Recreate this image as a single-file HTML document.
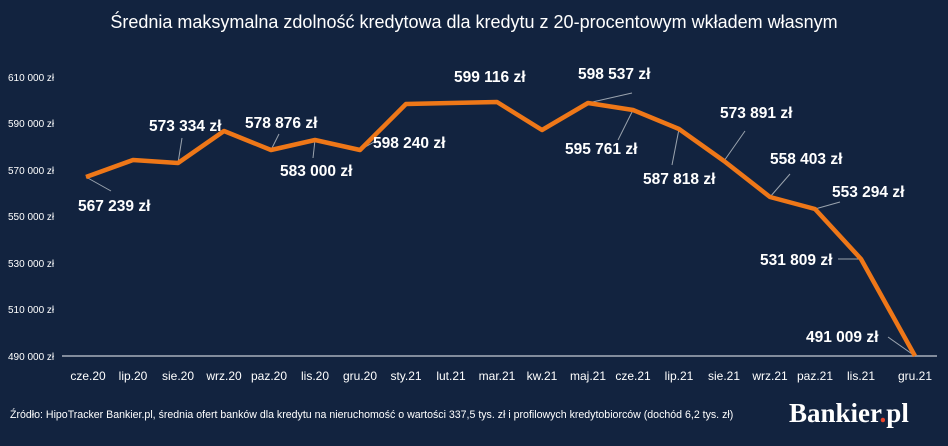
<!DOCTYPE html><html><head><meta charset="utf-8"><style>body{margin:0;background:#12233f}svg{display:block}text{font-family:"Liberation Sans",sans-serif;fill:#fff}</style></head><body>
<svg width="948" height="446" viewBox="0 0 948 446">
<rect width="948" height="446" fill="#12233f"/>
<text x="474" y="28" text-anchor="middle" font-size="18">Średnia maksymalna zdolność kredytowa dla kredytu z 20-procentowym wkładem własnym</text>
<g font-size="10" fill="#fff">
<text x="8" y="81">610 000 zł</text><text x="8" y="127">590 000 zł</text><text x="8" y="174">570 000 zł</text><text x="8" y="220">550 000 zł</text><text x="8" y="267">530 000 zł</text><text x="8" y="313">510 000 zł</text><text x="8" y="360">490 000 zł</text>
</g>
<line x1="62" y1="356" x2="937" y2="356" stroke="#a8b0bc" stroke-width="1.5"/>
<g font-size="12" text-anchor="middle">
<text x="88" y="380">cze.20</text><text x="133" y="380">lip.20</text><text x="178" y="380">sie.20</text><text x="224" y="380">wrz.20</text><text x="269" y="380">paz.20</text><text x="315" y="380">lis.20</text><text x="360" y="380">gru.20</text><text x="406" y="380">sty.21</text><text x="451" y="380">lut.21</text><text x="497" y="380">mar.21</text><text x="542" y="380">kw.21</text><text x="588" y="380">maj.21</text><text x="633" y="380">cze.21</text><text x="679" y="380">lip.21</text><text x="724" y="380">sie.21</text><text x="770" y="380">wrz.21</text><text x="815" y="380">paz.21</text><text x="861" y="380">lis.21</text><text x="915" y="380">gru.21</text>
</g>
<g stroke="#9aa3ae" stroke-width="1" fill="none">
<line x1="86" y1="177" x2="111" y2="191"/><line x1="178" y1="163" x2="182" y2="138"/><line x1="271" y1="150" x2="279" y2="134"/><line x1="315" y1="140" x2="313" y2="158"/><line x1="360" y1="150" x2="374" y2="142"/><line x1="588" y1="103" x2="632" y2="93"/><line x1="588" y1="103" x2="615" y2="107"/><line x1="633" y1="110" x2="618" y2="140"/><line x1="679" y1="129" x2="672" y2="165"/><line x1="724" y1="161" x2="745" y2="131"/><line x1="770" y1="197" x2="790" y2="174"/><line x1="815" y1="209" x2="840" y2="202"/><line x1="861" y1="259" x2="838" y2="259"/><line x1="915" y1="356" x2="888" y2="337"/>
</g>
<polyline fill="none" stroke="#ee7718" stroke-width="4.5" stroke-linejoin="round" points="86,177 133,160 178,163 224,131 271,150 315,140 360,150 406,104 451,103 497,102 542,130 588,103 633,110 679,129 724,161 770,197 815,209 861,259 915,356"/>
<g font-size="15.5" font-weight="bold">
<text x="78" y="211">567 239 zł</text>
<text x="149" y="131">573 334 zł</text>
<text x="245" y="128">578 876 zł</text>
<text x="280" y="176">583 000 zł</text>
<text x="373" y="148">598 240 zł</text>
<text x="454" y="82">599 116 zł</text>
<text x="578" y="79">598 537 zł</text>
<text x="565" y="154">595 761 zł</text>
<text x="643" y="184">587 818 zł</text>
<text x="720" y="118">573 891 zł</text>
<text x="770" y="164">558 403 zł</text>
<text x="832" y="197">553 294 zł</text>
<text x="760" y="265">531 809 zł</text>
<text x="806" y="342">491 009 zł</text>
</g>
<text x="10" y="418" font-size="10.6">Źródło: HipoTracker Bankier.pl, średnia ofert banków dla kredytu na nieruchomość o wartości 337,5 tys. zł i profilowych kredytobiorców (dochód 6,2 tys. zł)</text>
<text x="789" y="422" font-size="27" font-weight="bold" style="font-family:'Liberation Serif',serif">Bankier<tspan fill="#e8452c">.</tspan>pl</text>
</svg>
</body></html>
